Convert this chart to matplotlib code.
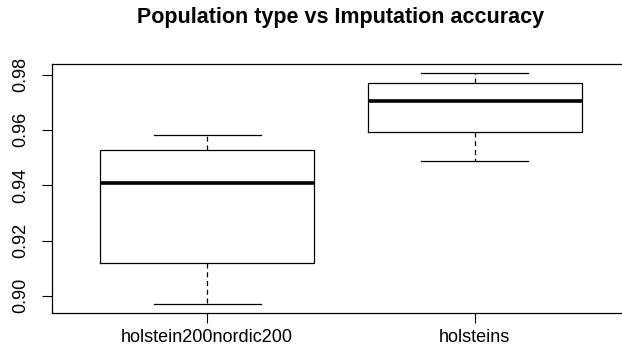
import matplotlib
matplotlib.use('Agg')
import matplotlib.pyplot as plt

# Values
groups = ['holstein200nordic200', 'holsteins']
whisker_low = [0.8971, 0.9488]
q1 = [0.9119, 0.9592]
medians = [0.9408, 0.9704]
q3 = [0.9527, 0.9769]
whisker_high = [0.9582, 0.9805]
yticks = [0.90, 0.92, 0.94, 0.96, 0.98]

plt.rcParams['font.family'] = ['Liberation Sans', 'DejaVu Sans']

fig = plt.figure(figsize=(6.22, 3.53), dpi=100)
ax = fig.add_axes([52 / 622, 1 - 313 / 353, (630 - 52) / 622, (313 - 64) / 353])

stats = []
for i, name in enumerate(groups):
    stats.append({'label': name, 'whislo': whisker_low[i], 'q1': q1[i], 'med': medians[i],
                  'q3': q3[i], 'whishi': whisker_high[i], 'fliers': []})

ax.bxp(stats, positions=[1, 2], widths=0.8, showfliers=False,
       boxprops=dict(color='black', linewidth=0.9),
       medianprops=dict(color='black', linewidth=2.6, solid_capstyle='butt'),
       whiskerprops=dict(color='black', linewidth=0.9, linestyle=(0, (4, 3))),
       capprops=dict(color='black', linewidth=0.9),
       capwidths=0.4)

ax.set_xlim(0.42, 2.58)
ax.set_ylim(0.8938, 0.9838)
ax.set_yticks(yticks)
ax.set_yticklabels(['%.2f' % v for v in yticks], rotation=90, va='center', fontsize=13)
ax.set_xticks([1, 2])
ax.set_xticklabels(groups, fontsize=13)
ax.tick_params(axis='both', length=7.2, width=0.8)
ax.tick_params(axis='x', pad=4)
ax.tick_params(axis='y', pad=9)
for s in ax.spines.values():
    s.set_linewidth(0.9)

fig.text(341 / 622, 1 - 17 / 353, 'Population type vs Imputation accuracy',
         ha='center', va='center', fontsize=15.5, fontweight='bold')

plt.savefig('out.png', dpi=100)
